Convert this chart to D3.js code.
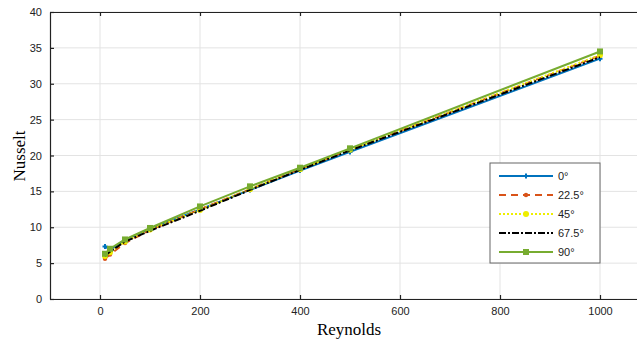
<!DOCTYPE html>
<html>
<head>
<meta charset="utf-8">
<script src="https://cdn.jsdelivr.net/npm/d3@7"></script>
<style>
body { margin:0; background:#fff; }
.tick text { font-family: "Liberation Sans", Arial, sans-serif; font-size:11px; }
.title { font-family: "Liberation Serif", "Times New Roman", serif; font-size:17px; }
</style>
</head>
<body>
<svg id="chart"></svg>
<script>
var reynolds = [10, 20, 50, 100, 200, 300, 400, 500, 1000]
var nu0   = [7.3, 6.9, 8.2, 9.8, 12.5, 15.2, 17.9, 20.5, 33.5]
var nu225 = [5.6, 6.2, 7.8, 9.6, 12.5, 15.3, 18.1, 20.8, 33.9]
var nu45  = [6.0, 6.5, 8.0, 9.7, 12.4, 15.3, 18.1, 20.8, 34.0]
var nu675 = [6.0, 6.6, 8.0, 9.5, 12.3, 15.2, 18.0, 20.7, 33.7]
var nu90  = [6.3, 7.0, 8.3, 9.9, 12.9, 15.7, 18.3, 21.0, 34.5]
var labels = ["0°", "22.5°", "45°", "67.5°", "90°"]
var xTicks = [0, 200, 400, 600, 800, 1000]
var yTicks = [0, 5, 10, 15, 20, 25, 30, 35, 40]

var series = [
    {name: labels[0], values: nu0,   color: "#0072BD", dash: null,        marker: "plus"},
    {name: labels[1], values: nu225, color: "#D95319", dash: "7,5",       marker: "dot"},
    {name: labels[2], values: nu45,  color: "#EEEE00", dash: "2,2",       marker: "circle"},
    {name: labels[3], values: nu675, color: "#000000", dash: "7,2,2,2",   marker: "none"},
    {name: labels[4], values: nu90,  color: "#77AC30", dash: null,        marker: "square"}
]

var screen = {width: 637, height: 341}
var margins = {left: 50, top: 12, right: -13, bottom: 42}
var graph = {
    width: screen.width - margins.left - margins.right,
    height: screen.height - margins.top - margins.bottom
}

var svg = d3.select("#chart")
    .attr("width", screen.width)
    .attr("height", screen.height)

var target = svg.append("g")
    .attr("transform", "translate(" + margins.left + "," + margins.top + ")")

var xScale = d3.scaleLinear().domain([-100, 1100]).range([0, graph.width])
var yScale = d3.scaleLinear().domain([0, 40]).range([graph.height, 0])

// grid
target.append("g").selectAll("line").data(xTicks).enter().append("line")
    .attr("x1", function(d) { return xScale(d) }).attr("x2", function(d) { return xScale(d) })
    .attr("y1", 0).attr("y2", graph.height)
    .attr("stroke", "#e3e3e3").attr("stroke-width", 1)
target.append("g").selectAll("line").data(yTicks).enter().append("line")
    .attr("y1", function(d) { return yScale(d) }).attr("y2", function(d) { return yScale(d) })
    .attr("x1", 0).attr("x2", graph.width)
    .attr("stroke", "#e3e3e3").attr("stroke-width", 1)

// axes
var xAxis = d3.axisBottom(xScale).tickValues(xTicks).tickFormat(d3.format("d")).tickSizeInner(-4).tickSizeOuter(0).tickPadding(8)
var yAxis = d3.axisLeft(yScale).tickValues(yTicks).tickSizeInner(-4).tickSizeOuter(0).tickPadding(8)
var xTop = d3.axisTop(xScale).tickValues(xTicks).tickSizeInner(-4).tickSizeOuter(0).tickFormat("")

var gx = target.append("g").attr("transform", "translate(0," + graph.height + ")").call(xAxis)
var gy = target.append("g").call(yAxis)
var gt = target.append("g").call(xTop)
;[gx, gy, gt].forEach(function(g) {
    g.selectAll("path, line").attr("stroke", "#222").attr("stroke-width", 1.2)
    g.selectAll("text").attr("fill", "#222")
})

// lines
var line = d3.line()
    .x(function(d, i) { return xScale(reynolds[i]) })
    .y(function(d) { return yScale(d) })

var drawMarker = function(g, type, color, x, y) {
    if (type == "plus") {
        g.append("path").attr("d", "M" + (x-2.5) + "," + y + "h5M" + x + "," + (y-2.5) + "v5")
            .attr("stroke", color).attr("stroke-width", 2)
    } else if (type == "dot") {
        g.append("circle").attr("cx", x).attr("cy", y).attr("r", 2.2).attr("fill", color)
    } else if (type == "circle") {
        g.append("circle").attr("cx", x).attr("cy", y).attr("r", 3).attr("fill", color)
    } else if (type == "square") {
        g.append("rect").attr("x", x-3).attr("y", y-3).attr("width", 6).attr("height", 6)
            .attr("fill", color)
    }
}

series.forEach(function(s) {
    var g = target.append("g")
    g.append("path").datum(s.values)
        .attr("d", line)
        .attr("fill", "none")
        .attr("stroke", s.color)
        .attr("stroke-width", 2)
        .attr("stroke-dasharray", s.dash)
    s.values.forEach(function(v, i) {
        drawMarker(g, s.marker, s.color, xScale(reynolds[i]), yScale(v))
    })
})

// legend
var legend = svg.append("g").attr("transform", "translate(490,163)")
legend.append("rect").attr("width", 110).attr("height", 100)
    .attr("fill", "#fff").attr("stroke", "#666").attr("stroke-width", 1)
series.forEach(function(s, i) {
    var y = 13 + i * 19
    legend.append("line").attr("x1", 9).attr("x2", 63).attr("y1", y).attr("y2", y)
        .attr("stroke", s.color).attr("stroke-width", 2).attr("stroke-dasharray", s.dash)
    drawMarker(legend, s.marker, s.color, 36, y)
    legend.append("text").attr("x", 68).attr("y", y + 4).text(s.name)
        .attr("font-family", "Liberation Sans, Arial, sans-serif").attr("font-size", 11)
        .attr("fill", "#222")
})

// titles
svg.append("text").attr("class", "title")
    .attr("x", 349).attr("y", 335).attr("text-anchor", "middle").text("Reynolds")
svg.append("g").attr("transform", "translate(25,156)")
    .append("text").attr("class", "title")
    .attr("text-anchor", "middle").attr("transform", "rotate(270)").text("Nusselt")
</script>
</body>
</html>
